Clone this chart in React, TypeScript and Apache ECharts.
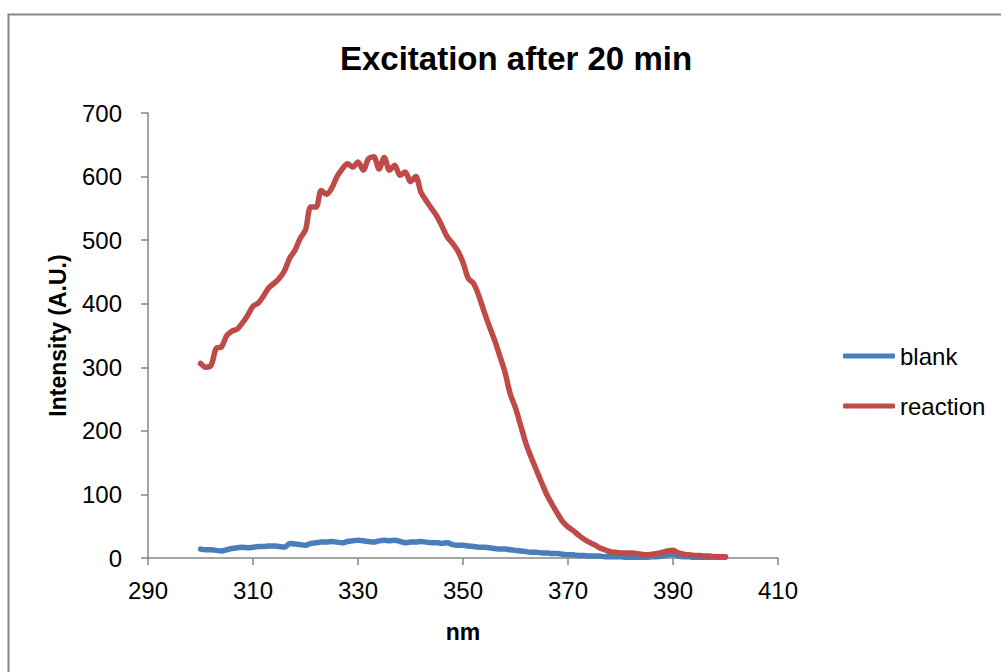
import React, { useEffect, useRef } from "react";
import * as echarts from "echarts";

const titleText = "Excitation after 20 min";
const xAxisName = "nm";
const yAxisName = "Intensity (A.U.)";
const seriesNames = ["blank", "reaction"];

const wavelengths = [
  300, 301, 302, 303, 304, 305, 306, 307, 308, 309,
  310, 311, 312, 313, 314, 315, 316, 317, 318, 319,
  320, 321, 322, 323, 324, 325, 326, 327, 328, 329,
  330, 331, 332, 333, 334, 335, 336, 337, 338, 339,
  340, 341, 342, 343, 344, 345, 346, 347, 348, 349,
  350, 351, 352, 353, 354, 355, 356, 357, 358, 359,
  360, 361, 362, 363, 364, 365, 366, 367, 368, 369,
  370, 371, 372, 373, 374, 375, 376, 377, 378, 379,
  380, 381, 382, 383, 384, 385, 386, 387, 388, 389,
  390, 391, 392, 393, 394, 395, 396, 397, 398, 399,
  400,
];

const blankValues = [
  14, 13, 13, 12, 11, 13, 15, 16, 17, 16,
  17, 18, 18, 19, 19, 18, 17, 23, 22, 21,
  20, 23, 24, 25, 25, 26, 25, 24, 26, 27,
  28, 27, 26, 25, 27, 28, 27, 28, 26, 24,
  25, 25, 26, 25, 24, 24, 23, 24, 21, 20,
  20, 19, 18, 17, 17, 16, 15, 14, 14, 13,
  12, 11, 10, 9, 9, 8, 8, 7, 7, 6,
  5, 5, 4, 4, 3, 3, 3, 2, 2, 2,
  2, 1, 1, 1, 1, 1, 2, 2, 3, 5,
  6, 3, 2, 2, 1, 1, 1, 1, 1, 1,
  1,
];

const reactionValues = [
  306, 300, 303, 330, 332, 350, 357, 360, 370, 382,
  396, 401, 412, 425, 432, 440, 452, 472, 484, 503,
  516, 552, 552, 578, 572, 582, 600, 612, 620, 615,
  623, 610, 628, 631, 612, 630, 610, 618, 602, 607,
  592, 600, 575, 562, 550, 538, 522, 505, 495, 483,
  465, 440, 432, 413, 388, 365, 343, 318, 292, 258,
  236, 208, 180, 158, 138, 118, 99, 84, 70, 57,
  49, 43, 36, 30, 25, 21, 16, 13, 10, 9,
  8, 8, 8, 7, 6, 5, 6, 7, 9, 11,
  12, 8, 6, 5, 4, 4, 3, 3, 2, 2,
  2,
];

const seriesColors = ["#4A7EBB", "#BE4B48"];

export default function App() {
  const ref = useRef<HTMLDivElement>(null);

  useEffect(() => {
    if (!ref.current) return;
    const chart = echarts.init(ref.current, undefined, { renderer: "svg" });
    const font = "'Liberation Sans', Arial, sans-serif";
    const axisColor = "#868686";
    const toPairs = (vals: number[]) => wavelengths.map((w, i) => [w, vals[i]]);

    chart.setOption({
      animation: false,
      backgroundColor: "#ffffff",
      textStyle: { fontFamily: font },
      title: {
        text: titleText,
        left: 511,
        top: 37,
        textAlign: "center",
        textStyle: { fontSize: 33, fontWeight: "bold", color: "#000", fontFamily: font },
      },
      graphic: [
        {
          type: "rect",
          shape: { x: 8.5, y: 14.5, width: 1100, height: 1000 },
          style: { fill: "none", stroke: "#868686", lineWidth: 2 },
          silent: true,
          z: -1,
        },
      ],
      legend: {
        orient: "vertical",
        left: 838,
        top: 339,
        icon: "roundRect",
        itemWidth: 52,
        itemHeight: 5,
        itemGap: 26,
        textStyle: { fontSize: 24, color: "#000", fontFamily: font, padding: [0, 0, 0, 0] },
        data: seriesNames,
      },
      grid: { left: 148, right: 223, top: 113, bottom: 114, containLabel: false },
      xAxis: {
        type: "value",
        min: 290,
        max: 410,
        interval: 20,
        name: xAxisName,
        nameLocation: "middle",
        nameGap: 62,
        nameTextStyle: { fontSize: 23, fontWeight: "bold", color: "#000", fontFamily: font },
        axisLine: { lineStyle: { color: axisColor, width: 1.5 } },
        axisTick: { show: true, length: 7, lineStyle: { color: axisColor, width: 1.5 } },
        axisLabel: { fontSize: 24, color: "#000", margin: 20, fontFamily: font },
        splitLine: { show: false },
      },
      yAxis: {
        type: "value",
        min: 0,
        max: 700,
        interval: 100,
        name: yAxisName,
        nameLocation: "middle",
        nameGap: 79,
        nameTextStyle: { fontSize: 23, fontWeight: "bold", color: "#000", fontFamily: font },
        axisLine: { show: true, lineStyle: { color: axisColor, width: 1.5 } },
        axisTick: { show: true, length: 7, lineStyle: { color: axisColor, width: 1.5 } },
        axisLabel: { fontSize: 24, color: "#000", margin: 26, fontFamily: font },
        splitLine: { show: false },
      },
      series: [
        {
          name: seriesNames[0],
          type: "line",
          data: toPairs(blankValues),
          symbol: "none",
          smooth: 0.3,
          lineStyle: { color: seriesColors[0], width: 5.5, cap: "round", join: "round" },
          itemStyle: { color: seriesColors[0] },
          z: 2,
        },
        {
          name: seriesNames[1],
          type: "line",
          data: toPairs(reactionValues),
          symbol: "none",
          smooth: 0.3,
          lineStyle: { color: seriesColors[1], width: 5.5, cap: "round", join: "round" },
          itemStyle: { color: seriesColors[1] },
          z: 3,
        },
      ],
    });

    return () => chart.dispose();
  }, []);

  return (
    <div
      ref={ref}
      style={{ position: "fixed", left: 0, top: 0, width: 1001, height: 672, background: "#fff" }}
    />
  );
}
